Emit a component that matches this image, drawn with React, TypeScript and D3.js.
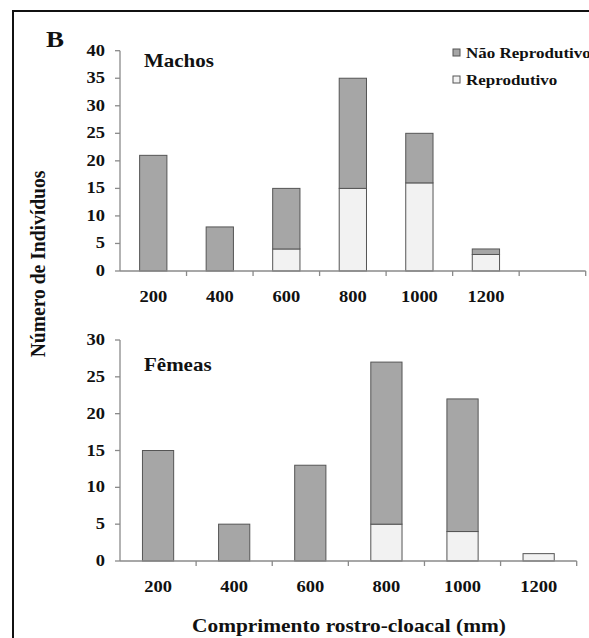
import React from "react";
import * as d3 from "d3";

const categoriesTop = ["200", "400", "600", "800", "1000", "1200", ""];
const machosReprodutivo = [0, 0, 4, 15, 16, 3, 0];
const machosNaoReprodutivo = [21, 8, 11, 20, 9, 1, 0];

const categoriesBottom = ["200", "400", "600", "800", "1000", "1200"];
const femeasReprodutivo = [0, 0, 0, 5, 4, 1];
const femeasNaoReprodutivo = [15, 5, 13, 22, 18, 0];

const ticksTop = [0, 5, 10, 15, 20, 25, 30, 35, 40];
const ticksBottom = [0, 5, 10, 15, 20, 25, 30];

const FONT = "'Liberation Serif', 'Times New Roman', serif";
const DARK = "#a6a6a6";
const LIGHT = "#f2f2f2";
const BAR_STROKE = "#555555";
const AXIS = "#8a8a8a";
const VS = 0.85;

function T({ x, y, size, anchor = "start", children, rotate = false }: any) {
  const tr = rotate
    ? `translate(${x},${y}) rotate(-90) scale(${VS + 0.04},1)`
    : `translate(${x},${y}) scale(1,${VS})`;
  return (
    <text
      transform={tr}
      fontFamily={FONT}
      fontWeight="bold"
      fontSize={size}
      textAnchor={anchor}
      fill="#111"
    >
      {children}
    </text>
  );
}

function Panel({
  cats,
  repro,
  nao,
  ticks,
  yMax,
  x0,
  x1,
  yTop,
  yBottom,
  title,
  titleY,
  labelY,
}: any) {
  const x = d3.scaleBand<string>().domain(cats.map((c: string, i: number) => i + "")).range([x0, x1]).padding(0);
  const y = d3.scaleLinear().domain([0, yMax]).range([yBottom, yTop]);
  const bw = x.bandwidth() * 0.41;
  const boundaries = cats.map((_: string, i: number) => x0 + x.step() * (i + 1));
  return (
    <g>
      {cats.map((c: string, i: number) => {
        const cx = (x(i + "") as number) + x.bandwidth() / 2;
        const r = repro[i];
        const n = nao[i];
        return (
          <g key={i}>
            {r > 0 && (
              <rect
                x={cx - bw / 2}
                y={y(r)}
                width={bw}
                height={y(0) - y(r)}
                fill={LIGHT}
                stroke={BAR_STROKE}
                strokeWidth={1}
              />
            )}
            {n > 0 && (
              <rect
                x={cx - bw / 2}
                y={y(r + n)}
                width={bw}
                height={y(r) - y(r + n)}
                fill={DARK}
                stroke={BAR_STROKE}
                strokeWidth={1}
              />
            )}
            {c && (
              <T x={cx} y={labelY} size={18.5} anchor="middle">
                {c}
              </T>
            )}
          </g>
        );
      })}
      <line x1={x0} x2={x0} y1={y(yMax)} y2={y(0)} stroke={AXIS} strokeWidth={1.3} />
      <line x1={x0} x2={x1} y1={y(0)} y2={y(0)} stroke={AXIS} strokeWidth={1.3} />
      {ticks.map((t: number) => (
        <g key={t}>
          <line x1={x0 - 5} x2={x0} y1={y(t)} y2={y(t)} stroke={AXIS} strokeWidth={1.3} />
          <T x={105} y={y(t) + 5} size={18.5} anchor="end">
            {t}
          </T>
        </g>
      ))}
      {boundaries.map((b: number, i: number) => (
        <line key={i} x1={b} x2={b} y1={y(0)} y2={y(0) + 5} stroke={AXIS} strokeWidth={1.3} />
      ))}
      <T x={144} y={titleY} size={21} anchor="start">
        {title}
      </T>
    </g>
  );
}

export default function App() {
  return (
    <svg
      width={589}
      height={638}
      style={{ position: "absolute", left: 0, top: 0, background: "#fff" }}
    >
      <rect x={0} y={0} width={589} height={638} fill="#fff" />
      <line x1={13} x2={13} y1={10} y2={638} stroke="#111" strokeWidth={2} />
      <line x1={12} x2={589} y1={11} y2={11} stroke="#111" strokeWidth={2} />
      <T x={46} y={47} size={27}>
        B
      </T>
      <Panel
        cats={categoriesTop}
        repro={machosReprodutivo}
        nao={machosNaoReprodutivo}
        ticks={ticksTop}
        yMax={40}
        x0={120}
        x1={585.7}
        yTop={50.7}
        yBottom={271}
        title="Machos"
        titleY={67}
        labelY={302}
      />
      <Panel
        cats={categoriesBottom}
        repro={femeasReprodutivo}
        nao={femeasNaoReprodutivo}
        ticks={ticksBottom}
        yMax={30}
        x0={120}
        x1={576.7}
        yTop={340}
        yBottom={561}
        title="Fêmeas"
        titleY={371}
        labelY={592}
      />
      <rect x={453} y={49} width={7} height={7} fill={DARK} stroke={BAR_STROKE} strokeWidth={1} />
      <T x={466} y={58} size={17}>
        Não Reprodutivo
      </T>
      <rect x={453} y={76} width={7} height={7} fill={LIGHT} stroke={BAR_STROKE} strokeWidth={1} />
      <T x={466} y={85} size={17}>
        Reprodutivo
      </T>
      <T x={45} y={264} size={22} anchor="middle" rotate>
        Número de Indivíduos
      </T>
      <T x={349} y={632} size={21.4} anchor="middle">
        Comprimento rostro-cloacal (mm)
      </T>
    </svg>
  );
}
